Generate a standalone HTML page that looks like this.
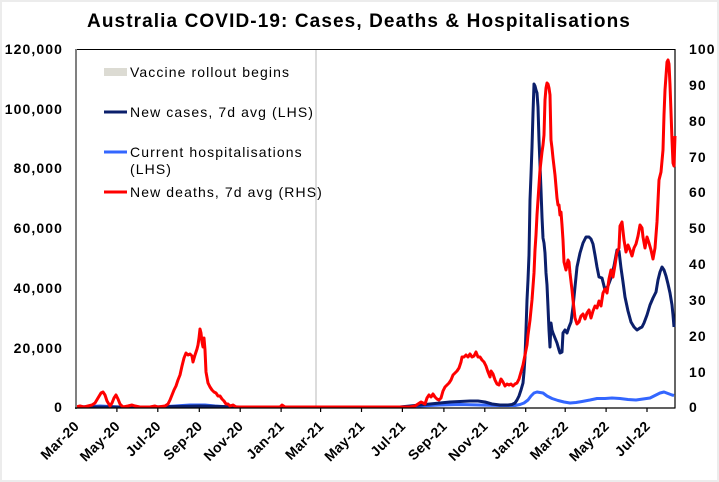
<!DOCTYPE html>
<html>
<head>
<meta charset="utf-8">
<style>
html,body{margin:0;padding:0;background:#fff;}
svg{display:block;}
text{font-family:"Liberation Sans",Arial,sans-serif;fill:#000;}
.tl{font-size:14px;font-weight:bold;letter-spacing:1.1px;}
.xl{font-size:14px;font-weight:bold;letter-spacing:0.4px;}
.lg{font-size:14px;letter-spacing:1.1px;}
</style>
</head>
<body>
<svg width="719" height="482" viewBox="0 0 719 482" xmlns="http://www.w3.org/2000/svg">
<rect x="0" y="0" width="719" height="482" fill="#fff"/>
<rect x="1" y="1" width="717" height="480" fill="none" stroke="#ececec" stroke-width="2"/>

<!-- Title -->
<text x="359" y="27" text-anchor="middle" style="font-size:19px;font-weight:bold;letter-spacing:1.1px;">Australia COVID-19: Cases, Deaths &amp; Hospitalisations</text>

<!-- plot frame -->
<line x1="76" y1="49.5" x2="675" y2="49.5" stroke="#000" stroke-width="1"/>
<line x1="675" y1="49" x2="675" y2="408" stroke="#000" stroke-width="1.2"/>
<line x1="316" y1="50" x2="316" y2="407" stroke="#c4c4c4" stroke-width="1.2"/>

<!-- series: hospitalisations -->
<polyline fill="none" stroke="#3366ff" stroke-width="3" stroke-linejoin="round" points="76,407 90,406.5 100,406 110,406.5 120,407 160,407 175,406 190,405 205,405 215,406 230,407 400,407 420,406 440,405 460,404.5 480,405 500,405.5 515,405.5 520,404.5 524,403 528,400 531,396 534,393 537,392 540,392.5 543,393 547,396 552,398.5 558,400.5 564,402 570,403 576,402.5 582,401.5 590,400 597,398.5 605,398.5 612,398 620,398.5 628,399.5 636,400 643,399 650,398 656,395 660,393 664,392 668,393.5 672,395 674,395.5"/>

<!-- series: new cases -->
<polyline fill="none" stroke="#0b1f6b" stroke-width="3" stroke-linejoin="round" points="76,407 150,407 200,406 240,407 400,407 410,406 420,405 430,404 440,403 450,402 460,401.5 470,401 478,401 485,402 492,404 500,405 508,405 512,404.5 515,403 517,400 519,396 521,390 523,383 524,372 525,357 526,330 527,300 528,280 529,255 530,200 531,175 532,147 533,113 534,84 535,86 536,90 537,93 538,107 539,140 540,165 541,190 542,217 543,238 544,243 545,253 546,273 547,285 548,307 549,330 550,347 551,323 552,330 553,333 555,338 557,343 559,350 560,353 562,352 563,333 565,330 567,333 569,327 571,322 573,307 575,287 577,267 580,253 583,243 586,237 589,237 591,239 593,244 595,255 597,267 599,277 602,278 605,290 608,286 611,278 614,266 617,250 619,251 621,268 623,282 625,297 628,311 631,322 634,327 637,330 640,328 642,327 644,323 647,315 650,305 653,298 656,292 658,280 660,272 662,267 664,270 666,276 668,284 670,293 672,305 673,315 674,327"/>

<!-- series: new deaths (RHS) -->
<polyline fill="none" stroke="#ff0000" stroke-width="3" stroke-linejoin="round" points="76,407 80,406 84,407 88,406 92,405 95,403 98,398 101,393 103,392 105,395 107,401 110,406 112,403 114,398 116,395 118,399 120,404 123,407 128,406 132,405 135,406 140,407 150,407 155,406 158,407 165,406 168,404 170,400 172,395 174,390 176,386 178,380 180,375 182,366 184,358 186,353 188,355 190,354 192,356 193,362 195,355 197,349 198,345 199,338 200,329 201,333 202,342 203,347 204,338 205,350 206,372 208,383 210,387 212,390 214,392 216,393 218,396 220,396 222,399 224,401 226,404 228,404 230,406 233,405 236,407 240,407 280,407 282,405 285,407 405,407 410,407 415,406 418,404 421,402 423,403 425,404 427,398 429,395 431,397 433,394 435,397 437,399 439,400 441,398 443,391 445,387 447,385 449,383 451,380 453,375 455,373 457,371 459,368 461,362 462,357 464,357 466,355 468,357 470,354 472,357 474,356 476,352 478,357 480,357 482,360 484,362 486,366 488,372 490,377 491,371 493,374 495,380 497,384 499,385 501,379 503,382 505,386 507,384 509,385 511,384 513,386 515,384 517,383 519,379 521,372 523,365 525,355 527,345 528,335 530,320 532,300 534,273 535,250 536,235 537,215 538,200 540,170 542,152 543,145 544,135 545,100 546,88 547,83 548,84 549,88 550,95 551,140 552,148 553,158 555,175 557,198 558,205 559,205 560,215 561,212 562,225 563,240 564,262 566,270 568,260 569,262 570,273 572,290 573,300 575,318 577,324 579,322 581,316 583,314 585,319 587,313 589,310 591,318 593,311 595,306 597,308 599,301 601,306 603,293 605,289 607,293 609,279 611,270 613,277 615,265 617,252 619,248 620,226 622,222 624,240 626,252 628,245 630,250 632,256 634,248 636,244 638,236 640,225 642,228 643,237 645,248 647,237 649,243 651,250 653,259 655,248 657,222 659,180 661,172 663,150 664,115 665,90 666,76 667,62 668,60 669,64 670,85 671,112 672,140 673,163 674,166 675,136"/>

<!-- axes -->
<line x1="76" y1="49" x2="76" y2="409" stroke="#808080" stroke-width="2"/>
<line x1="75" y1="408" x2="675.5" y2="408" stroke="#000" stroke-width="1.3"/>
<g stroke="#000" stroke-width="1.2">
<line x1="116.9" y1="408" x2="116.9" y2="412"/>
<line x1="157.8" y1="408" x2="157.8" y2="412"/>
<line x1="199.3" y1="408" x2="199.3" y2="412"/>
<line x1="240.2" y1="408" x2="240.2" y2="412"/>
<line x1="281.1" y1="408" x2="281.1" y2="412"/>
<line x1="320.6" y1="408" x2="320.6" y2="412"/>
<line x1="361.5" y1="408" x2="361.5" y2="412"/>
<line x1="402.4" y1="408" x2="402.4" y2="412"/>
<line x1="443.9" y1="408" x2="443.9" y2="412"/>
<line x1="484.8" y1="408" x2="484.8" y2="412"/>
<line x1="525.7" y1="408" x2="525.7" y2="412"/>
<line x1="565.2" y1="408" x2="565.2" y2="412"/>
<line x1="606.1" y1="408" x2="606.1" y2="412"/>
<line x1="647" y1="408" x2="647" y2="412"/>
</g>

<!-- left labels -->
<g class="tl" text-anchor="end">
<text x="63" y="54">120,000</text>
<text x="63" y="114">100,000</text>
<text x="63" y="173">80,000</text>
<text x="63" y="233">60,000</text>
<text x="63" y="293">40,000</text>
<text x="63" y="353">20,000</text>
<text x="63" y="412">0</text>
</g>

<!-- right labels -->
<g class="tl">
<text x="689" y="54">100</text>
<text x="689" y="90">90</text>
<text x="689" y="126">80</text>
<text x="689" y="162">70</text>
<text x="689" y="197">60</text>
<text x="689" y="233">50</text>
<text x="689" y="269">40</text>
<text x="689" y="305">30</text>
<text x="689" y="341">20</text>
<text x="689" y="377">10</text>
<text x="689" y="412">0</text>
</g>

<!-- x labels -->
<g class="xl" text-anchor="end">
<text transform="translate(80,427) rotate(-45)">Mar-20</text>
<text transform="translate(120.9,427) rotate(-45)">May-20</text>
<text transform="translate(161.8,427) rotate(-45)">Jul-20</text>
<text transform="translate(203.3,427) rotate(-45)">Sep-20</text>
<text transform="translate(244.2,427) rotate(-45)">Nov-20</text>
<text transform="translate(285.1,427) rotate(-45)">Jan-21</text>
<text transform="translate(324.6,427) rotate(-45)">Mar-21</text>
<text transform="translate(365.5,427) rotate(-45)">May-21</text>
<text transform="translate(406.4,427) rotate(-45)">Jul-21</text>
<text transform="translate(447.9,427) rotate(-45)">Sep-21</text>
<text transform="translate(488.8,427) rotate(-45)">Nov-21</text>
<text transform="translate(529.7,427) rotate(-45)">Jan-22</text>
<text transform="translate(569.2,427) rotate(-45)">Mar-22</text>
<text transform="translate(610.1,427) rotate(-45)">May-22</text>
<text transform="translate(651,427) rotate(-45)">Jul-22</text>
</g>

<!-- legend -->
<rect x="104" y="68" width="23" height="8" fill="#dcdbd3"/>
<text class="lg" x="130" y="77">Vaccine rollout begins</text>
<line x1="104" y1="112" x2="127" y2="112" stroke="#0b1f6b" stroke-width="3"/>
<text class="lg" x="130" y="117">New cases, 7d avg (LHS)</text>
<line x1="104" y1="152" x2="127" y2="152" stroke="#3366ff" stroke-width="3"/>
<text class="lg" x="130" y="157">Current hospitalisations</text>
<text class="lg" x="130" y="174">(LHS)</text>
<line x1="104" y1="192" x2="127" y2="192" stroke="#ff0000" stroke-width="3"/>
<text class="lg" x="130" y="197">New deaths, 7d avg (RHS)</text>
</svg>
</body>
</html>
